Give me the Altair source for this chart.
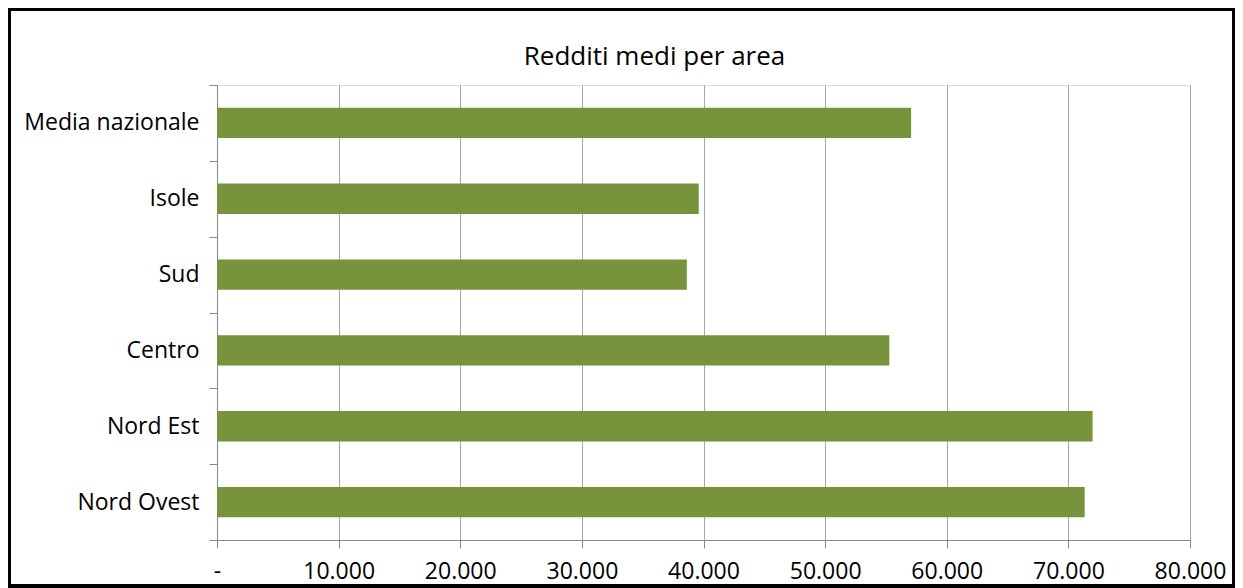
import altair as alt
import pandas as pd

title_text = "Redditi medi per area"
areas = ["Media nazionale", "Isole", "Sud", "Centro", "Nord Est", "Nord Ovest"]
values = [57070, 39610, 38630, 55280, 71990, 71340]
x_ticks = [0, 10000, 20000, 30000, 40000, 50000, 60000, 70000, 80000]

df = pd.DataFrame({"area": areas, "reddito": values})

W, H = 973, 455
PL, PT, PR, PB = 209, 77, 45, 48
FONT = "Open Sans"

bars = alt.Chart(df).mark_bar(color="#77933C", height={"band": 0.4}).encode(
    y=alt.Y("area:N", sort=areas,
            scale=alt.Scale(paddingInner=0, paddingOuter=0),
            axis=alt.Axis(title=None, tickBand="extent", tickSize=8,
                          tickColor="#888888", domainColor="#888888",
                          labelFont=FONT, labelFontSize=23, labelColor="#000000",
                          labelPadding=10, grid=False)),
    x=alt.X("reddito:Q",
            scale=alt.Scale(domain=[0, 80000], nice=False),
            axis=alt.Axis(title=None, values=x_ticks, tickSize=8,
                          tickColor="#888888", domainColor="#888888",
                          gridColor="#A6A6A6", gridWidth=1,
                          labelFont=FONT, labelFontSize=23, labelColor="#000000",
                          labelPadding=12, labelFlush=False,
                          labelExpr="datum.value == 0 ? '-' : format(datum.value / 1000, 'd') + '.000'")),
)

frame = alt.Chart(df).mark_rect(fill=None, stroke="#000000", strokeWidth=3, clip=False).encode(
    x=alt.value(-PL + 1.5),
    x2=alt.value(W + PR - 1.5),
    y=alt.value(-PT + 1.5),
    y2=alt.value(H + PB - 2),
)

title = alt.Chart(pd.DataFrame({"t": [title_text]})).mark_text(
    font=FONT, fontSize=26, color="#000000", align="center", baseline="alphabetic"
).encode(
    text="t:N",
    x=alt.value(437.5),
    y=alt.value(-20),
)

chart = alt.layer(bars, frame, title).properties(
    width=W,
    height=H,
    padding={"left": PL, "top": PT, "right": PR, "bottom": PB},
    autosize=alt.AutoSizeParams(type="none"),
).configure_view(stroke=None).configure(background="white")

chart.save("out.html", embed_options={"renderer": "svg", "actions": False})
